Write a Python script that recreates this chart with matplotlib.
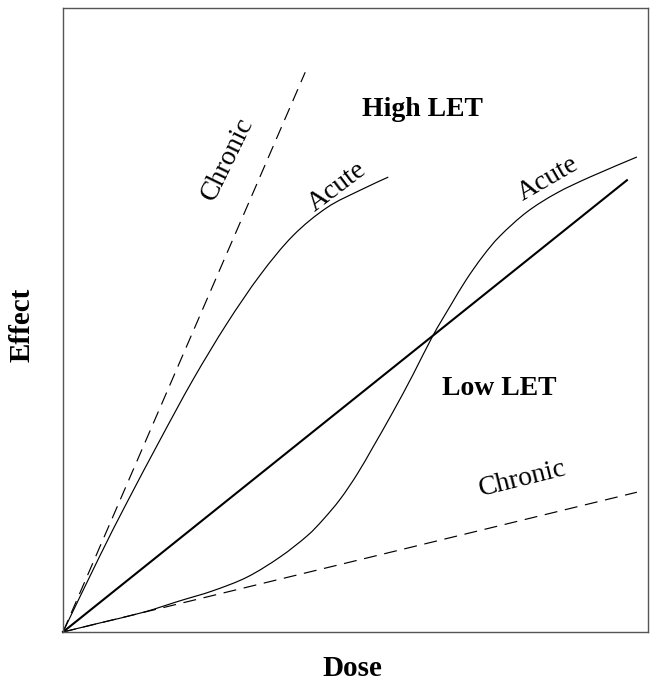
import matplotlib
matplotlib.use("Agg")
import matplotlib.pyplot as plt
from matplotlib.path import Path
from matplotlib.patches import PathPatch

# ---- data (Dose 0-100, Effect 0-100) ----
high_chronic_dose = [0.0, 41.4]
high_chronic_effect = [0.0, 89.7]

high_acute_dose = [0.0, 6.3, 10.9, 16.6, 22.2, 28.0, 33.7, 39.3, 45.1, 50.8, 55.6]
high_acute_effect = [0.0, 12.2, 20.7, 30.8, 40.4, 49.4, 57.2, 63.5, 68.0, 70.8, 72.9]

low_linear_dose = [0.0, 96.4]
low_linear_effect = [0.0, 72.4]

low_acute_dose = [0.0, 6.3, 13.7, 20.0, 25.6, 31.5, 37.1, 41.7, 44.4, 47.4, 50.3, 53.0,
                  56.4, 59.8, 63.2, 66.2, 68.9, 71.8, 74.7, 79.3, 84.4, 90.1, 98.1]
low_acute_effect = [0.0, 1.45, 3.15, 5.0, 6.6, 8.81, 12.02, 15.38, 17.95, 21.31, 25.32, 29.65,
                    35.26, 41.19, 47.44, 52.24, 56.41, 60.26, 63.46, 67.31, 70.35, 72.92, 76.12]

low_chronic_dose = [0.0, 98.1]
low_chronic_effect = [0.0, 22.4]

serif = ["Liberation Serif", "DejaVu Serif"]
plt.rcParams["font.family"] = serif


def smooth_path(xs, ys):
    """Bezier path passing through the read points (Catmull-Rom style)."""
    pts = list(zip(xs, ys))
    verts = [pts[0]]
    codes = [Path.MOVETO]
    n = len(pts)
    for i in range(n - 1):
        p0 = pts[i - 1] if i > 0 else pts[i]
        p1 = pts[i]
        p2 = pts[i + 1]
        p3 = pts[i + 2] if i + 2 < n else pts[i + 1]
        c1 = (p1[0] + (p2[0] - p0[0]) / 6, p1[1] + (p2[1] - p0[1]) / 6)
        c2 = (p2[0] - (p3[0] - p1[0]) / 6, p2[1] - (p3[1] - p1[1]) / 6)
        verts += [c1, c2, p2]
        codes += [Path.CURVE4] * 3
    return Path(verts, codes)


fig = plt.figure(figsize=(6.5, 6.81), dpi=100)
ax = fig.add_axes([63 / 650, 1 - 632 / 681, 585 / 650, 624 / 681])

thin = 0.85
dash = (11, 6.5)
ax.plot(high_chronic_dose, high_chronic_effect, color="black", lw=thin,
        dashes=dash, clip_on=False)
ax.add_patch(PathPatch(smooth_path(high_acute_dose, high_acute_effect),
                       fill=False, edgecolor="black", lw=thin, clip_on=False))
ax.plot(low_linear_dose, low_linear_effect, color="black", lw=1.5, clip_on=False)
ax.add_patch(PathPatch(smooth_path(low_acute_dose, low_acute_effect),
                       fill=False, edgecolor="black", lw=thin, clip_on=False))
ax.plot(low_chronic_dose, low_chronic_effect, color="black", lw=thin,
        dashes=dash, clip_on=False)

ax.set_xlim(0, 100)
ax.set_ylim(0, 100)
ax.set_xticks([])
ax.set_yticks([])
for sp in ax.spines.values():
    sp.set_color("#555555")
    sp.set_linewidth(1.0)

ax.text(61.4, 83.7, "High LET", fontsize=20, fontweight="bold", ha="center", va="center")
ax.text(74.5, 39.1, "Low LET", fontsize=20, fontweight="bold", ha="center", va="center")

lab = dict(fontsize=20, ha="center", va="center", rotation_mode="anchor")
ax.text(28.2, 75.8, "Chronic", rotation=64, **lab)
ax.text(46.9, 71.4, "Acute", rotation=37, **lab)
ax.text(83.0, 72.6, "Acute", rotation=30, **lab)
ax.text(78.5, 24.6, "Chronic", rotation=14, **lab)

fig.text(352 / 650, 1 - 668 / 681, "Dose", fontsize=21, fontweight="bold",
         ha="center", va="center")
fig.text(22 / 650, 1 - 325 / 681, "Effect", fontsize=21, fontweight="bold",
         ha="center", va="center", rotation=90)

fig.savefig("out.png", dpi=100)
